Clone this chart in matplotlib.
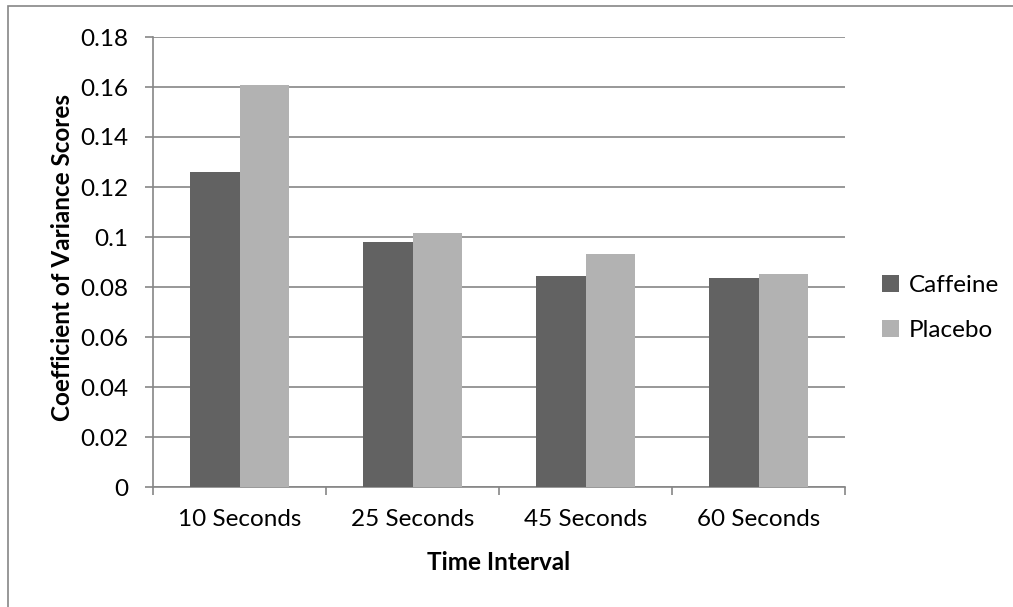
import numpy as np
import matplotlib.pyplot as plt
from matplotlib.patches import Rectangle

# data
categories = ['10 Seconds', '25 Seconds', '45 Seconds', '60 Seconds']
caffeine = [0.126, 0.098, 0.0845, 0.0838]
placebo = [0.161, 0.1018, 0.0932, 0.0851]
yticks = [0, 0.02, 0.04, 0.06, 0.08, 0.1, 0.12, 0.14, 0.16, 0.18]
ytick_labels = ['0', '0.02', '0.04', '0.06', '0.08', '0.1', '0.12', '0.14', '0.16', '0.18']

plt.rcParams['font.family'] = ['Lato', 'DejaVu Sans']

W, H = 1013, 607
fig = plt.figure(figsize=(W / 100, H / 100), dpi=100)
ax = fig.add_axes([153 / W, 120 / H, 692 / W, 450 / H])

# outer chart border (cropped on right and bottom in the reference)
fig.patches.append(Rectangle((8 / W, -0.05), 1.2, 1.05 - 6 / H,
                             transform=fig.transFigure, fill=False,
                             edgecolor='#868686', lw=1.2))

x = np.arange(len(categories))
bw = 1 / 3.5
ax.bar(x - bw / 2, caffeine, bw, color='#626262', label='Caffeine', zorder=3)
ax.bar(x + bw / 2, placebo, bw, color='#b2b2b2', label='Placebo', zorder=3)

ax.set_xlim(-0.5, len(categories) - 0.5)
ax.set_ylim(0, 0.18)
ax.set_yticks(yticks)
ax.set_yticklabels(ytick_labels)
ax.yaxis.grid(True, color='#868686', lw=1.2, zorder=0)

ax.set_xticks(x)
ax.set_xticklabels(categories)
ax.set_xticks(np.arange(-0.5, len(categories)), minor=True)
ax.tick_params(axis='x', which='major', length=0, pad=16, labelsize=17.5)
ax.tick_params(axis='x', which='minor', length=6, color='#868686', width=1.2)
ax.tick_params(axis='y', length=6, color='#868686', width=1.2, pad=12, labelsize=17.5)

for s in ['top', 'right']:
    ax.spines[s].set_visible(False)
for s in ['left', 'bottom']:
    ax.spines[s].set_color('#868686')
    ax.spines[s].set_linewidth(1.2)

ax.set_xlabel('Time Interval', fontsize=17.5, fontweight='bold', labelpad=15)
ax.set_ylabel('Coefficient of Variance Scores', fontsize=17.5, fontweight='bold')
ax.yaxis.set_label_coords(-0.114, 0.51)

ax.legend(loc='center left', bbox_to_anchor=(1.022, 0.398), frameon=False,
          fontsize=17.5, handlelength=0.7, handleheight=0.7, handletextpad=0.4,
          labelspacing=1.0)

fig.savefig('out.png', dpi=100)
